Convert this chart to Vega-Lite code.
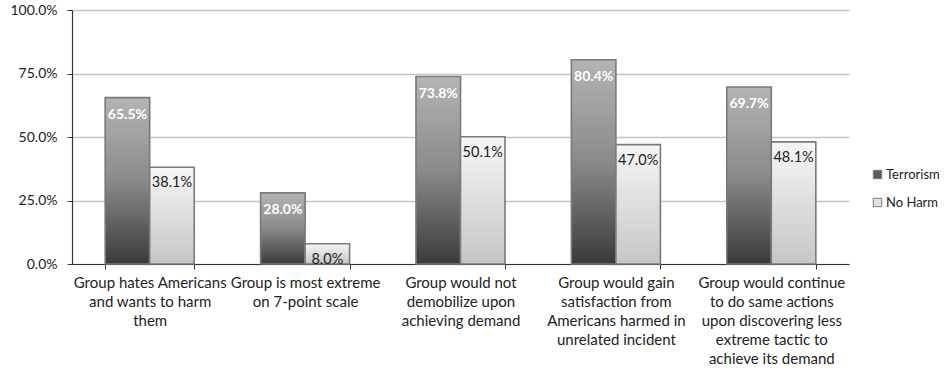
{
  "$schema": "https://vega.github.io/schema/vega-lite/v6.json",
  "width": 777,
  "height": 254,
  "autosize": {"type": "none"},
  "padding": {"left": 72, "top": 10, "right": 99, "bottom": 110},
  "background": "white",
  "config": {
    "view": {"stroke": null},
    "font": "Lato",
    "axis": {"labelFont": "Lato", "labelColor": "#222222"}
  },
  "data": {
    "values": [
      {"category": "Group hates Americans|and wants to harm|them", "series": "Terrorism", "value": 0.655},
      {"category": "Group hates Americans|and wants to harm|them", "series": "No Harm", "value": 0.381},
      {"category": "Group is most extreme|on 7-point scale", "series": "Terrorism", "value": 0.280},
      {"category": "Group is most extreme|on 7-point scale", "series": "No Harm", "value": 0.080},
      {"category": "Group would not|demobilize upon|achieving demand", "series": "Terrorism", "value": 0.738},
      {"category": "Group would not|demobilize upon|achieving demand", "series": "No Harm", "value": 0.501},
      {"category": "Group would gain|satisfaction from|Americans harmed in|unrelated incident", "series": "Terrorism", "value": 0.804},
      {"category": "Group would gain|satisfaction from|Americans harmed in|unrelated incident", "series": "No Harm", "value": 0.470},
      {"category": "Group would continue|to do same actions|upon discovering less|extreme tactic to|achieve its demand", "series": "Terrorism", "value": 0.697},
      {"category": "Group would continue|to do same actions|upon discovering less|extreme tactic to|achieve its demand", "series": "No Harm", "value": 0.481}
    ]
  },
  "encoding": {
    "x": {
      "field": "category",
      "type": "nominal",
      "sort": null,
      "title": null,
      "scale": {"paddingInner": 0.427, "paddingOuter": 0.2135},
      "axis": {
        "labelAngle": 0,
        "labelFontSize": 15,
        "labelExpr": "split(datum.label, '|')",
        "labelLineHeight": 19,
        "labelLimit": 300,
        "labelPadding": 6,
        "labelBaseline": "top",
        "tickBand": "extent",
        "tickSize": 5,
        "tickColor": "#333333",
        "domainColor": "#333333",
        "domainWidth": 1.2,
        "grid": false
      }
    },
    "xOffset": {
      "field": "series",
      "type": "nominal",
      "sort": ["Terrorism", "No Harm"],
      "scale": {"paddingInner": 0, "paddingOuter": 0}
    },
    "y": {
      "field": "value",
      "type": "quantitative",
      "title": null,
      "scale": {"domain": [0, 1], "nice": false},
      "axis": {
        "format": ".1%",
        "values": [0, 0.25, 0.5, 0.75, 1],
        "labelFontSize": 14,
        "tickSize": 5,
        "tickColor": "#333333",
        "domainColor": "#333333",
        "domainWidth": 1.2,
        "labelPadding": 10,
        "gridColor": "#c4c4c4",
        "gridWidth": 1.5
      }
    }
  },
  "layer": [
    {
      "mark": {"type": "bar", "stroke": "#7a7a7a", "strokeWidth": 1.6},
      "encoding": {
        "fill": {
          "condition": [
            {
              "test": "datum.series === 'Terrorism'",
              "value": {
                "gradient": "linear", "x1": 0, "y1": 0, "x2": 0, "y2": 1,
                "stops": [
                  {"offset": 0, "color": "#b4b4b4"},
                  {"offset": 0.5, "color": "#8a8a8a"},
                  {"offset": 1, "color": "#3a3a3a"}
                ]
              }
            },
            {
              "test": "datum.series === 'No Harm'",
              "value": {
                "gradient": "linear", "x1": 0, "y1": 0, "x2": 0, "y2": 1,
                "stops": [
                  {"offset": 0, "color": "#f6f6f6"},
                  {"offset": 1, "color": "#c6c6c6"}
                ]
              }
            }
          ],
          "field": "series",
          "type": "nominal",
          "title": null,
          "scale": {"domain": ["Terrorism", "No Harm"], "range": ["#5a5a5a", "#e2e2e2"]},
          "legend": {
            "orient": "none",
            "legendX": 799,
            "legendY": 158,
            "symbolType": "square",
            "symbolSize": 70,
            "symbolStrokeColor": "#7a7a7a",
            "symbolStrokeWidth": 1,
            "labelFont": "Lato",
            "labelFontSize": 13,
            "labelColor": "#222222",
            "labelOffset": 2,
            "rowPadding": 14
          }
        }
      }
    },
    {
      "transform": [{"filter": "datum.series === 'Terrorism'"}],
      "mark": {"type": "text", "baseline": "middle", "dy": 17, "fontWeight": "bold", "fontSize": 14, "color": "white", "font": "Lato"},
      "encoding": {"text": {"field": "value", "type": "quantitative", "format": ".1%"}}
    },
    {
      "transform": [{"filter": "datum.series === 'No Harm'"}],
      "mark": {"type": "text", "baseline": "middle", "dy": 16, "fontSize": 14.5, "color": "#222222", "font": "Lato"},
      "encoding": {"text": {"field": "value", "type": "quantitative", "format": ".1%"}}
    }
  ]
}
